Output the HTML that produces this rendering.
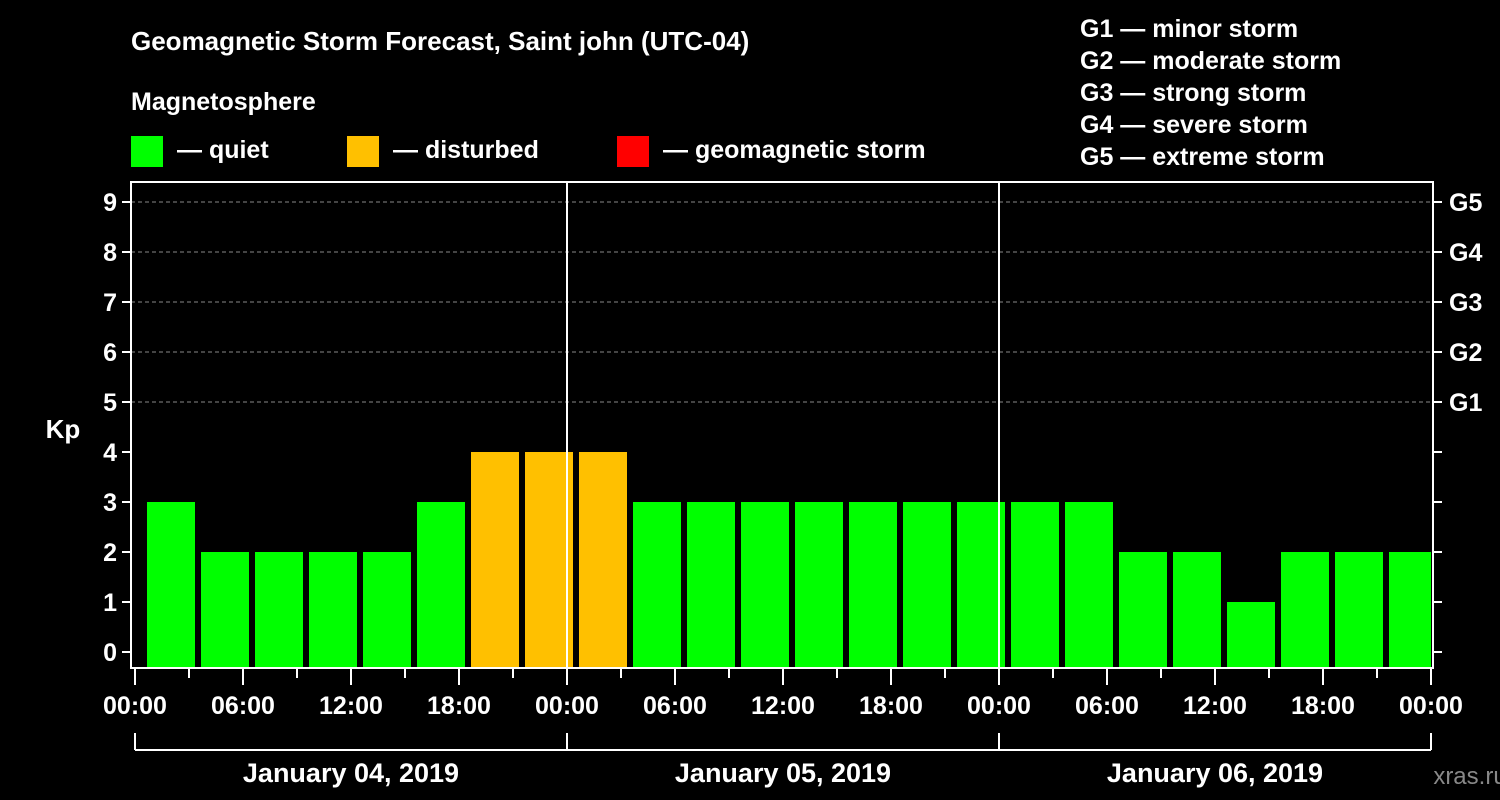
<!DOCTYPE html>
<html><head><meta charset="utf-8"><style>
body{margin:0;background:#000;width:1500px;height:800px;overflow:hidden}
svg{display:block;font-family:"Liberation Sans",Arial,sans-serif;font-weight:bold}
</style></head><body>
<svg id="chart" width="1500" height="800" viewBox="0 0 1500 800">
<rect width="1500" height="800" fill="#000"/>
<text x="131" y="50" fill="#fff" font-size="26">Geomagnetic Storm Forecast, Saint john (UTC-04)</text>
<text x="131" y="110" fill="#fff" font-size="25">Magnetosphere</text>
<g><rect x="131" y="136" width="32" height="31" fill="#00ff00"/><text x="177" y="158" fill="#fff" font-size="25">— quiet</text></g>
<g><rect x="347" y="136" width="32" height="31" fill="#ffc000"/><text x="393" y="158" fill="#fff" font-size="25">— disturbed</text></g>
<g><rect x="617" y="136" width="32" height="31" fill="#ff0000"/><text x="663" y="158" fill="#fff" font-size="25">— geomagnetic storm</text></g>
<g fill="#fff" font-size="25">
<text x="1080" y="37">G1 — minor storm</text>
<text x="1080" y="69">G2 — moderate storm</text>
<text x="1080" y="101">G3 — strong storm</text>
<text x="1080" y="133">G4 — severe storm</text>
<text x="1080" y="165">G5 — extreme storm</text>
</g>
<text x="63" y="438" fill="#fff" font-size="26" text-anchor="middle">Kp</text>
<text x="1470" y="784" fill="#888" font-size="24" text-anchor="middle" font-weight="normal">xras.ru</text>
<g id="grid"></g><g id="bars"></g><g id="axes"></g>
</svg>
<script>
const kpValues=[3,2,2,2,2,3,4,4,4,3,3,3,3,3,3,3,3,3,2,2,1,2,2,2,3];
const yTicks=[0,1,2,3,4,5,6,7,8,9];
const gLabels=["G1","G2","G3","G4","G5"];
const gLevels=[5,6,7,8,9];
const xTickLabels=["00:00","06:00","12:00","18:00","00:00","06:00","12:00","18:00","00:00","06:00","12:00","18:00","00:00"];
const dayLabels=["January 04, 2019","January 05, 2019","January 06, 2019"];
const NS="http://www.w3.org/2000/svg";
const X0=135,PXH=18,Y0=652,PXK=50;
const xs=h=>X0+h*PXH, ys=v=>Y0-v*PXK;
function mk(p,t,a){const e=document.createElementNS(NS,t);for(const k in a)e.setAttribute(k,a[k]);p.appendChild(e);return e;}
const grid=document.getElementById('grid'),bars=document.getElementById('bars'),axes=document.getElementById('axes');
const L=131,R=1433,T=182,B=668;
gLevels.forEach(v=>{const l=mk(grid,'line',{x1:L,x2:R,y1:ys(v),y2:ys(v),stroke:'#888','stroke-dasharray':'4,3','stroke-width':1});

});
const clipR=xs(72);
kpValues.forEach((v,i)=>{const c=xs(1.5+3*i+0.5);let x1=c-24,x2=c+24;x1=Math.max(x1,X0+1);x2=Math.min(x2,clipR);
const col=v>=5?'#ff0000':(v>=4?'#ffc000':'#00ff00');
const r=mk(bars,'rect',{x:x1,y:ys(v),width:x2-x1,height:B-ys(v),fill:col});

});
[24,48].forEach(h=>{const l=mk(axes,'line',{x1:xs(h),x2:xs(h),y1:T,y2:B,stroke:'#fff','stroke-width':2});

});
const f=mk(axes,'rect',{x:L,y:T,width:R-L,height:B-T,fill:'none',stroke:'#fff','stroke-width':2});


yTicks.forEach(v=>{mk(axes,'line',{x1:L-9,x2:L,y1:ys(v),y2:ys(v),stroke:'#fff','stroke-width':2});
mk(axes,'line',{x1:R,x2:R+9,y1:ys(v),y2:ys(v),stroke:'#fff','stroke-width':2});
const t=mk(axes,'text',{x:L-14,y:ys(v)+9,fill:'#fff','font-size':25,'text-anchor':'end'});t.textContent=v;

});
gLabels.forEach((g,i)=>{const t=mk(axes,'text',{x:R+16,y:ys(gLevels[i])+9,fill:'#fff','font-size':25});t.textContent=g;

});
for(let h=0;h<=72;h+=3){const major=h%6===0;mk(axes,'line',{x1:xs(h),x2:xs(h),y1:B,y2:B+(major?17:10),stroke:'#fff','stroke-width':2});}
xTickLabels.forEach((s,i)=>{const t=mk(axes,'text',{x:xs(i*6),y:714,fill:'#fff','font-size':25,'text-anchor':'middle'});t.textContent=s;

});
mk(axes,'line',{x1:xs(0),x2:xs(72),y1:750,y2:750,stroke:'#fff','stroke-width':2});
[0,24,48,72].forEach(h=>mk(axes,'line',{x1:xs(h),x2:xs(h),y1:733,y2:750,stroke:'#fff','stroke-width':2}));
dayLabels.forEach((s,i)=>{const t=mk(axes,'text',{x:xs(12+24*i),y:782,fill:'#fff','font-size':27,'text-anchor':'middle'});t.textContent=s;

});
</script>
</body></html>
